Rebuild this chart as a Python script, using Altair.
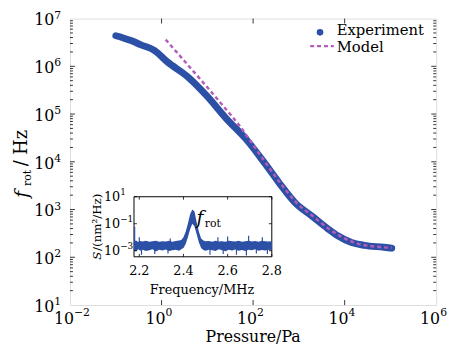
import altair as alt
import pandas as pd

# ---------------- main data ----------------
pressure = [0.1, 0.141, 0.214, 0.355, 0.708, 1.35, 3.63, 9.77, 26.3, 70.8, 162, 363,
            832, 1950, 4270, 7080, 14100, 26900, 72400, 107000]
f_exp = [4.37e6, 3.98e6, 3.47e6, 2.82e6, 2.14e6, 1.23e6, 6.17e5, 2.40e5, 7.94e4, 2.95e4,
         1.07e4, 3.72e3, 1.38e3, 724, 398, 282, 204, 178, 162, 155]
p_model = [1.23, 3.16, 7.94, 20.0, 50.1, 158, 398, 891, 2000, 4470, 8910, 20000, 50100, 107000]
f_model = [3.63e6, 1.29e6, 4.68e5, 1.66e5, 5.75e4, 1.2e4, 3.55e3, 1.38e3, 730, 398, 263, 191, 166, 158]

x_tick_vals = [1e-2, 1, 1e2, 1e4, 1e6]
x_tick_exp = ['−2', '0', '2', '4', '6']
y_tick_vals = [1e1, 1e2, 1e3, 1e4, 1e5, 1e6, 1e7]
y_tick_exp = ['1', '2', '3', '4', '5', '6', '7']

# ---------------- inset data ----------------
freq_band = [2.176, 2.185, 2.195, 2.205, 2.215, 2.23, 2.245, 2.26, 2.275, 2.29, 2.305, 2.32,
             2.335, 2.35, 2.365, 2.38, 2.39, 2.40, 2.41, 2.42, 2.43, 2.44, 2.45, 2.46,
             2.47, 2.48, 2.49, 2.50, 2.515, 2.53, 2.545, 2.56, 2.575, 2.59, 2.605, 2.62,
             2.635, 2.65, 2.665, 2.68, 2.695, 2.71, 2.725, 2.74, 2.755, 2.77, 2.785, 2.8]
band_hi_exp = [-2.3, -2.25, -2.35, -2.28, -2.32, -2.27, -2.33, -2.3, -2.26, -2.34, -2.29, -2.31,
               -2.27, -2.33, -2.28, -2.25, -2.2, -2.0, -1.6, -1.0, -0.3, 0.05, -0.1, -0.9,
               -1.6, -2.1, -2.25, -2.3, -2.28, -2.33, -2.27, -2.31, -2.29, -2.34, -2.26, -2.3,
               -2.32, -2.27, -2.33, -2.29, -2.26, -2.31, -2.28, -2.34, -2.27, -2.3, -2.32, -2.29]
band_lo_exp = [-2.95, -3.05, -2.9, -3.0, -2.92, -3.02, -2.97, -2.9, -3.05, -2.93, -2.99, -2.91,
               -3.03, -2.96, -2.92, -3.0, -2.9, -2.8, -2.5, -2.0, -1.4, -1.0, -1.2, -1.8,
               -2.4, -2.8, -2.95, -3.0, -2.93, -2.97, -3.02, -2.9, -2.96, -3.04, -2.92, -2.98,
               -2.91, -3.0, -2.95, -3.03, -2.93, -2.97, -2.9, -3.01, -2.94, -2.99, -2.92, -2.96]
spike_freq = [2.179, 2.2, 2.34, 2.556, 2.60, 2.695, 2.757,
              2.21, 2.27, 2.33, 2.52, 2.58, 2.64, 2.685, 2.73, 2.78]
spike_tip_exp = [-1.2, -2.0, -2.1, -2.0, -1.95, -1.9, -2.0,
                 -3.3, -3.25, -3.2, -3.3, -3.25, -3.3, -3.35, -3.2, -3.25]
inset_x_ticks = [2.2, 2.4, 2.6, 2.8]
inset_x_text = ['2.2', '2.4', '2.6', '2.8']
inset_y_ticks = [10.0, 0.1, 0.001]
inset_y_exp = ['1', '−1', '−3']

# ---------------- style ----------------
W, H = 372, 291
FONT = 'DejaVu Serif'
BLUE = '#2c50a5'
PURPLE = '#b35cb8'


def mx(field):
    return alt.X(f'{field}:Q', scale=alt.Scale(type='log', domain=[1e-2, 1e6], nice=False),
                 axis=None)


def my(field):
    return alt.Y(f'{field}:Q', scale=alt.Scale(type='log', domain=[1e1, 1e7], nice=False),
                 axis=None)


def ix(field):
    return alt.X(f'{field}:Q', scale=alt.Scale(domain=[2.176, 2.8], range=[65, 205],
                                               nice=False, zero=False), axis=None)


def iy(field):
    return alt.Y(f'{field}:Q', scale=alt.Scale(type='log', domain=[10 ** -3.45, 10],
                                               range=[242, 181], nice=False), axis=None)


def txt(s, x, y, size, **kw):
    return alt.Chart(pd.DataFrame({'a': [0]})).mark_text(
        text=s, font=FONT, fontSize=size, color='black', **kw).encode(
        x=alt.value(x), y=alt.value(y))


exp_df = pd.DataFrame({'P': pressure, 'f': f_exp})
mod_df = pd.DataFrame({'P': p_model, 'f': f_model})

exp_line = alt.Chart(exp_df).mark_line(color=BLUE, strokeWidth=7, strokeCap='round',
                                       strokeJoin='round', interpolate='monotone').encode(
    x=mx('P'), y=my('f'))
mod_line = alt.Chart(mod_df).mark_line(color=PURPLE, strokeWidth=2.5, strokeDash=[4, 3],
                                       interpolate='monotone').encode(x=mx('P'), y=my('f'))

# inward ticks
y_major = [1e2, 1e3, 1e4, 1e5, 1e6]
y_minor = [m * 10 ** e for e in range(1, 7) for m in range(2, 10)]
x_major = [1.0, 1e2, 1e4]
ymaj_df = pd.DataFrame({'v': y_major})
ymin_df = pd.DataFrame({'v': y_minor})
xmaj_df = pd.DataFrame({'v': x_major})

tick_layers = []
for df, ln in [(ymaj_df, 5), (ymin_df, 3)]:
    tick_layers.append(alt.Chart(df).mark_rule(color='black', strokeWidth=0.8).encode(
        y=my('v'), x=alt.value(0), x2=alt.value(ln)))
    tick_layers.append(alt.Chart(df).mark_rule(color='black', strokeWidth=0.8).encode(
        y=my('v'), x=alt.value(W - ln), x2=alt.value(W)))
tick_layers.append(alt.Chart(xmaj_df).mark_rule(color='black', strokeWidth=0.8).encode(
    x=mx('v'), y=alt.value(H), y2=alt.value(H - 5)))
tick_layers.append(alt.Chart(xmaj_df).mark_rule(color='black', strokeWidth=0.8).encode(
    x=mx('v'), y=alt.value(0), y2=alt.value(5)))

# tick labels  10^n
xlab_df = pd.DataFrame({'v': x_tick_vals, 'e': x_tick_exp})
ylab_df = pd.DataFrame({'v': y_tick_vals, 'e': y_tick_exp})
xlab_base = alt.Chart(xlab_df).mark_text(text='10', font=FONT, fontSize=16, align='right',
                                         baseline='middle', dx=4, color='black').encode(
    x=mx('v'), y=alt.value(H + 14))
xlab_exp = alt.Chart(xlab_df).mark_text(font=FONT, fontSize=11, align='left',
                                        baseline='middle', dx=4, dy=-6, color='black').encode(
    x=mx('v'), y=alt.value(H + 14), text='e:N')
ylab_base = alt.Chart(ylab_df).mark_text(text='10', font=FONT, fontSize=16, align='right',
                                         baseline='middle', dy=2, color='black').encode(
    y=my('v'), x=alt.value(-16))
ylab_exp = alt.Chart(ylab_df).mark_text(font=FONT, fontSize=11, align='left',
                                        baseline='middle', dy=-3, color='black').encode(
    y=my('v'), x=alt.value(-16), text='e:N')

xtitle = txt('Pressure/Pa', 186, 324, 16, baseline='middle')

# y title  f_rot / Hz
yt_f = txt('f', -49, 182, 19, fontStyle='italic', angle=270, align='left', baseline='middle')
yt_rot = txt('rot', -43, 170, 11, angle=270, align='left', baseline='middle')
yt_hz = txt('/ Hz', -49, 150, 18, angle=270, align='left', baseline='middle')

# legend
one = pd.DataFrame({'a': [0]})
leg_pt = alt.Chart(one).mark_point(filled=True, color=BLUE, size=45, opacity=1).encode(
    x=alt.value(254), y=alt.value(14))
leg_t1 = txt('Experiment', 271, 12, 15, align='left', baseline='middle')
leg_ln = alt.Chart(one).mark_rule(color=PURPLE, strokeWidth=2.5, strokeDash=[4, 3]).encode(
    x=alt.value(244), x2=alt.value(268), y=alt.value(28))
leg_t2 = txt('Model', 271, 29, 15, align='left', baseline='middle')

main = alt.layer(exp_line, mod_line, *tick_layers, xlab_base, xlab_exp, ylab_base, ylab_exp,
                 xtitle, yt_f, yt_rot, yt_hz, leg_pt, leg_t1, leg_ln, leg_t2)

# ---------------- inset ----------------
frame_df = pd.DataFrame({'fr': [2.176], 'fr2': [2.8], 's': [10 ** -3.45], 's2': [10.0]})
band_df = pd.DataFrame({'fr': freq_band,
                        'lo': [10 ** v for v in band_lo_exp],
                        'hi': [10 ** v for v in band_hi_exp]})
spike_df = pd.DataFrame({'fr': spike_freq,
                         'base': [10 ** -2.6] * len(spike_freq),
                         'tip': [10 ** v for v in spike_tip_exp]})
ixt_df = pd.DataFrame({'fr': inset_x_ticks, 't': inset_x_text})
iyt_df = pd.DataFrame({'s': inset_y_ticks, 'e': inset_y_exp})

frame = alt.Chart(frame_df).mark_rect(fill='white', stroke='black', strokeWidth=1).encode(
    x=ix('fr'), x2='fr2:Q', y=iy('s'), y2='s2:Q')
band = alt.Chart(band_df).mark_area(color=BLUE, opacity=1).encode(
    x=ix('fr'), y=iy('lo'), y2='hi:Q')
spikes = alt.Chart(spike_df).mark_rule(color=BLUE, strokeWidth=1.2).encode(
    x=ix('fr'), y=iy('base'), y2='tip:Q')
ixt_bot = alt.Chart(ixt_df).mark_rule(color='black', strokeWidth=0.8).encode(
    x=ix('fr'), y=alt.value(242), y2=alt.value(239))
ixt_top = alt.Chart(ixt_df).mark_rule(color='black', strokeWidth=0.8).encode(
    x=ix('fr'), y=alt.value(181), y2=alt.value(184))
iyt_l = alt.Chart(iyt_df).mark_rule(color='black', strokeWidth=0.8).encode(
    y=iy('s'), x=alt.value(65), x2=alt.value(68))
iyt_r = alt.Chart(iyt_df).mark_rule(color='black', strokeWidth=0.8).encode(
    y=iy('s'), x=alt.value(205), x2=alt.value(202))
ixl = alt.Chart(ixt_df).mark_text(font=FONT, fontSize=13, baseline='middle',
                                  color='black').encode(
    x=ix('fr'), y=alt.value(257), text='t:N')
iyl_base = alt.Chart(iyt_df).mark_text(text='10', font=FONT, fontSize=13, align='right',
                                       baseline='middle', color='black').encode(
    y=iy('s'), x=alt.value(51))
iyl_exp = alt.Chart(iyt_df).mark_text(font=FONT, fontSize=9, align='left',
                                      baseline='middle', dy=-5, color='black').encode(
    y=iy('s'), x=alt.value(51), text='e:N')
ixtitle = txt('Frequency/MHz', 134, 276, 13, baseline='middle')
iyt_S = txt('S', 27, 245, 12, fontStyle='italic', angle=270, align='left', baseline='middle')
iyt_rest = txt('/(nm²/Hz)', 27, 236, 12, angle=270, align='left', baseline='middle')
ann_f = txt('f', 132, 203, 19, fontStyle='italic', baseline='middle')
ann_rot = txt('rot', 137, 209, 11, align='left', baseline='middle')

inset = alt.layer(frame, band, spikes, ixt_bot, ixt_top, iyt_l, iyt_r, ixl, iyl_base,
                  iyl_exp, ixtitle, iyt_S, iyt_rest, ann_f, ann_rot)

chart = alt.layer(main, inset).resolve_scale(x='independent', y='independent').properties(
    width=W, height=H,
    autosize=alt.AutoSizeParams(type='none'),
    padding={'left': 63, 'top': 8, 'right': 12, 'bottom': 46},
).configure_view(stroke='black', strokeWidth=1).configure(background='white')

chart.save('out.html', embed_options={'renderer': 'svg', 'actions': False})
